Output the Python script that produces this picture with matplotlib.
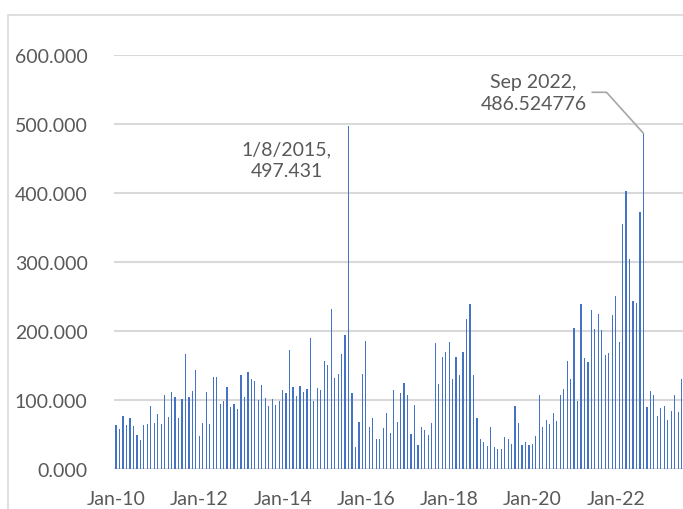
import matplotlib.pyplot as plt
import matplotlib.patches as mpatches
import numpy as np
import pandas as pd

# monthly values, Jan 2010 .. Aug 2023
values = [
    63.5, 57.7, 77, 64.4, 73.6, 62.5, 49, 42.3, 64.4, 65.9, 91.3, 67.3,
    79.3, 64.9, 106.7, 76, 112, 104.8, 73.6, 101, 167.3, 103.8, 113.5, 144,
    47.6, 66.3, 111.5, 65, 132.7, 132.7, 94.7, 98, 118.8, 89.4, 94.7, 87.5,
    135.6, 104.8, 141.3, 130.8, 126.9, 99.5, 122, 103.4, 91.3, 102, 92.8, 98.6,
    115, 110, 172.6, 119, 106, 120, 111, 115.5, 189.8, 98, 118, 114.6,
    156.8, 150.5, 232, 132, 138.3, 166.5, 194.7, 497.431, 110.7, 32.5, 68.4, 137.9,
    185.4, 60.7, 73.8, 43.7, 43.7, 59.2, 81.6, 52, 115, 67.5, 110.7, 124.3,
    107.3, 51, 93.2, 35, 60.7, 56.8, 50, 66, 182.5, 122.8, 162.6, 169.4,
    184, 131, 161.7, 136.4, 169, 217.5, 239.3, 136.9, 73.3, 43.7, 39.8, 34,
    61.2, 31.9, 29, 29, 46.4, 43, 35.7, 91.3, 66.2, 34.3, 38.6, 34.3,
    36.2, 47.8, 107.7, 60.9, 71, 65.2, 81.2, 69.6, 107.2, 116, 157, 131,
    204.3, 98, 239.6, 160.4, 154.6, 230, 202.4, 224, 201, 165.2, 168.6, 222.7,
    250.2, 183.6, 355, 402.4, 303.9, 244, 240, 372, 486.524776, 89.4, 112.6, 107.7,
    76.3, 88.9, 90.8, 70.5, 83.6, 106.8, 82.1, 131,
]
dates = pd.date_range("2010-01-01", periods=len(values), freq="MS")
y_ticks = [0, 100, 200, 300, 400, 500, 600]
label_2015 = "1/8/2015,\n497.431"
label_2022 = "Sep 2022,\n486.524776"

text_col = "#595959"
font = "Lato"
fs = 14

fig = plt.figure(figsize=(6.83, 5.1), dpi=100)
fig.patch.set_facecolor("white")
# chart area border (cut off on right/bottom)
fig.add_artist(mpatches.Rectangle((8 / 683, -0.1), 1.2, (510 - 16) / 510 + 0.1,
                                  transform=fig.transFigure, fill=False,
                                  ec="#D9D9D9", lw=1.2))

ax = fig.add_axes([114 / 683, 40 / 510, 1 - 114 / 683, 414 / 510])
x = np.arange(len(values))
ax.bar(x, values, width=0.35, color="#4472C4", zorder=3)

ax.set_ylim(0, 600)
ax.set_xlim(-0.6, 163.4)
ax.set_yticks(y_ticks)
ax.set_yticklabels([f"{v:.3f}" for v in y_ticks])
ax.yaxis.grid(True, color="#D9D9D9", lw=1.5, zorder=0)
ax.set_axisbelow(True)
xt = x[::24]
ax.set_xticks(xt)
ax.set_xticklabels([dates[i].strftime("%b-%y") for i in xt])
ax.tick_params(axis="both", length=0, labelsize=fs, labelcolor=text_col)
ax.tick_params(axis="y", pad=19)
ax.tick_params(axis="x", pad=15)
for lab in ax.get_xticklabels() + ax.get_yticklabels():
    lab.set_fontfamily(font)
for s in ax.spines.values():
    s.set_visible(False)

# data labels
i1 = dates.get_loc(pd.Timestamp("2015-08-01"))
ax.annotate(label_2015, xy=(x[i1], values[i1]), xytext=(-62, -34),
            textcoords="offset pixels", ha="center", va="center",
            fontsize=fs, color=text_col, fontfamily=font, linespacing=1.35)
i2 = dates.get_loc(pd.Timestamp("2022-09-01"))
ax.annotate(label_2022, xy=(x[i2], values[i2]), xytext=(-110, 41),
            textcoords="offset pixels", ha="center", va="center",
            fontsize=fs, color=text_col, fontfamily=font, linespacing=1.35,
            arrowprops=dict(arrowstyle="-", color="#A6A6A6", lw=1.2,
                            connectionstyle="angle,angleA=0,angleB=132,rad=0",
                            shrinkA=2, shrinkB=0))

fig.savefig("out.png", dpi=100)
